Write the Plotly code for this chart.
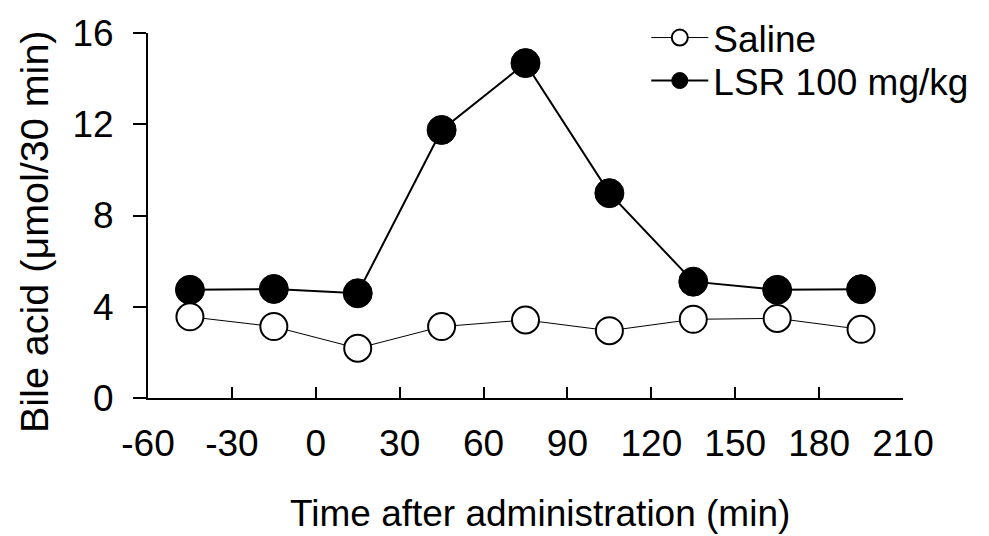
import plotly.graph_objects as go

time_min = [-45, -15, 15, 45, 75, 105, 135, 165, 195]
saline = [3.56, 3.13, 2.18, 3.13, 3.42, 2.95, 3.45, 3.49, 3.01]
lsr = [4.74, 4.78, 4.59, 11.75, 14.68, 8.98, 5.10, 4.74, 4.77]
x_ticks = [-60, -30, 0, 30, 60, 90, 120, 150, 180, 210]
x_tick_labels = ["-60", "-30", "0", "30", "60", "90", "120", "150", "180", "210"]
y_ticks = [0, 4, 8, 12, 16]

FONT = "Liberation Sans, Arial, sans-serif"
FS = 37

fig = go.Figure()
fig.add_trace(go.Scatter(
    x=time_min, y=lsr, mode="lines+markers", name="LSR 100 mg/kg",
    legend="legend2",
    line=dict(color="black", width=2),
    marker=dict(symbol="circle", size=29, color="black", line=dict(color="black", width=1)),
))
fig.add_trace(go.Scatter(
    x=time_min, y=saline, mode="lines+markers", name="Saline",
    legend="legend",
    line=dict(color="black", width=1),
    marker=dict(symbol="circle", size=27, color="white", line=dict(color="black", width=2)),
))

leg_common = dict(xanchor="left", yanchor="middle", bgcolor="rgba(0,0,0,0)",
                  font=dict(family=FONT, size=FS), itemwidth=57)

fig.update_layout(
    width=989, height=536,
    margin=dict(l=148, r=86, t=33, b=138, autoexpand=False),
    paper_bgcolor="white", plot_bgcolor="white",
    font=dict(family=FONT, size=FS, color="black"),
    showlegend=True,
    legend=dict(x=0.66, y=(398 - 38) / 365, **leg_common),
    legend2=dict(x=0.66, y=(398 - 81) / 365, **leg_common),
    xaxis=dict(
        range=[-60, 210], tickmode="array", tickvals=x_ticks, ticktext=x_tick_labels,
        ticks="inside", ticklen=11, tickwidth=2, tickcolor="black",
        showline=True, linecolor="black", linewidth=2,
        showgrid=False, zeroline=False, automargin=False,
        ticklabelstandoff=12,
        tickfont=dict(family=FONT, size=FS),
    ),
    yaxis=dict(
        range=[0, 16], tickmode="array", tickvals=y_ticks,
        ticks="outside", ticklen=13, tickwidth=2, tickcolor="black",
        showline=True, linecolor="black", linewidth=2,
        showgrid=False, zeroline=False, automargin=False,
        ticklabelstandoff=12,
        tickfont=dict(family=FONT, size=FS),
    ),
    annotations=[
        dict(
            text="Bile acid (\u03bcmol/30 min)", textangle=-90,
            xref="paper", yref="paper", x=(34 - 148) / 755, y=(398 - 232) / 365,
            xanchor="center", yanchor="middle", showarrow=False,
            font=dict(family=FONT, size=39.5),
        ),
        dict(
            text="Time after administration (min)",
            xref="paper", yref="paper", x=(540 - 148) / 755, y=(398 - 513) / 365,
            xanchor="center", yanchor="middle", showarrow=False,
            font=dict(family=FONT, size=FS),
        ),
    ],
)

fig.write_html("out.html")
